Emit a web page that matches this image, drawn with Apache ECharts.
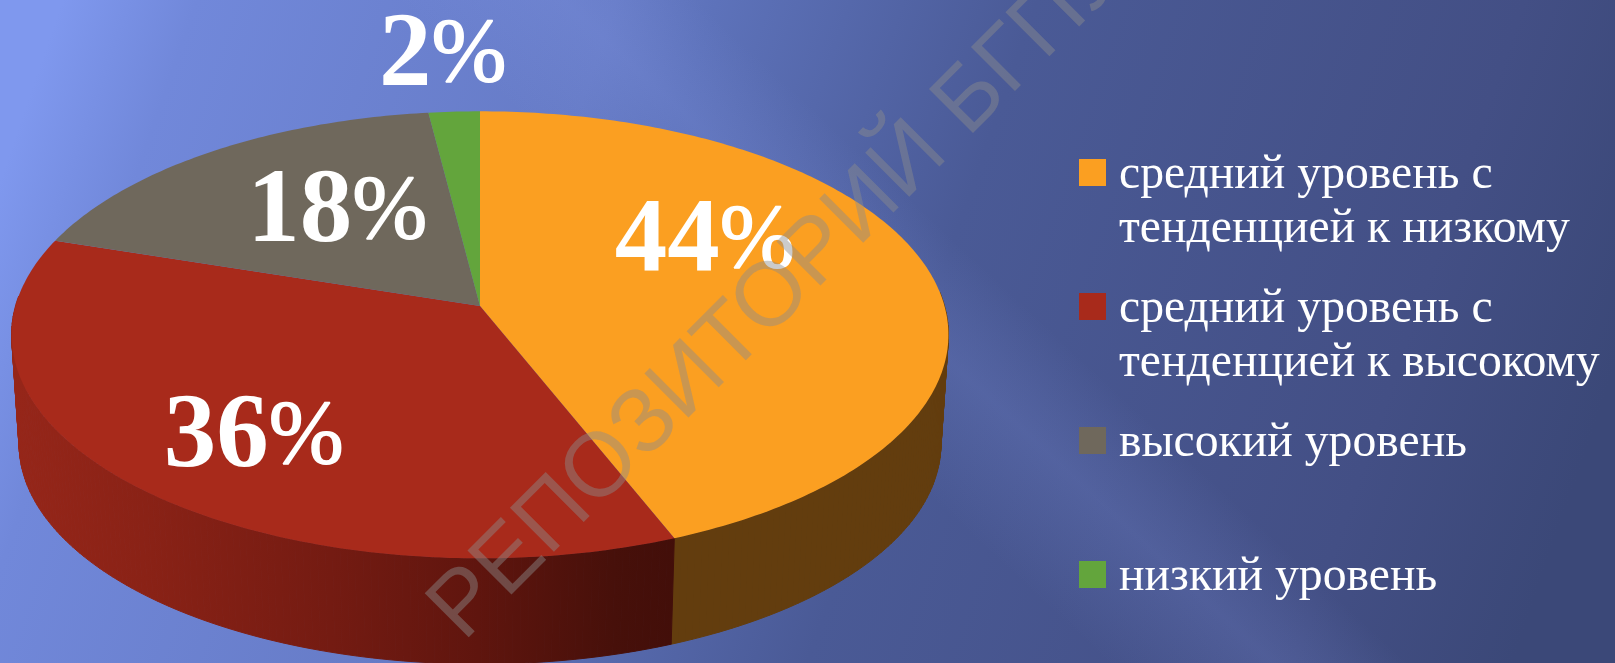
<!DOCTYPE html>
<html>
<head>
<meta charset="utf-8">
<title>Уровни</title>
<style>
html,body{margin:0;padding:0;background:#3b487a;}
#chart{width:1615px;height:663px;}
</style>
<script src="https://cdn.jsdelivr.net/npm/echarts@6/dist/echarts.min.js"></script>
</head>
<body>
<div id="chart"></div>
<script>
// data
var categories = ['средний уровень с\nтенденцией к низкому', 'средний уровень с\nтенденцией к высокому', 'высокий уровень\n ', 'низкий уровень\n '];
var values = [44, 36, 18, 2];
var watermark = 'РЕПОЗИТОРИЙ БГПУ';

var topColors = ['#FB9F21', '#A82A1B', '#6F685C', '#63A53C'];
var total = values.reduce(function(a,b){return a+b;}, 0);

// the pie is a tilted disc seen in perspective
var CX = 480, CY = 306, RX = 464.5, RY = 219.8, PERSP = 0.129;
var WALL_Y = 415.7, WALL_S = 0.984;

function project(angle, r, low){
	var X = Math.sin(angle)*r;
	var Y = -Math.cos(angle)*r;
	var w = 1 - PERSP*Y;
	var s = low ? WALL_S : 1;
	return [CX + s*RX*X/w, (low ? WALL_Y : CY) + s*RY*Y/w];
}

var redWall = new echarts.graphic.LinearGradient(10, 0, 680, 0, [
	{offset:0, color:'#962619'},
	{offset:0.2, color:'#8a2216'},
	{offset:0.48, color:'#741b12'},
	{offset:0.7, color:'#5f150e'},
	{offset:0.9, color:'#47100a'},
	{offset:1, color:'#420e09'}
], true);
var wallColors = ['#633D0E', redWall, '#4a453d', '#42702a'];
// label centre moved away from the middle of the slice, as in the picture
var labelShift = [[-45,-38],[-24,31],[25,4],[-21,-126]];

function renderSlice(params, api){
	var i = params.seriesIndex;
	var before = 0;
	for (var n=0;n<i;n++) before += values[n];
	var a0 = before/total*Math.PI*2;
	var a1 = (before+api.value(0))/total*Math.PI*2;
	var steps = Math.max(4, Math.ceil((a1-a0)/0.015));
	var children = [];
	var rim = [project(a0,0,false)];
	var prevT, prevB;
	for (var s=0;s<=steps;s++){
		var a = a0+(a1-a0)*s/steps;
		var t = project(a,1,false), b = project(a,1,true);
		rim.push(t);
		// back of the wall is behind the top, only the front half is drawn
		if (s>0 && Math.cos(a)<0.05){
			children.push({
				type:'polygon', z2:1, silent:true,
				shape:{points:[prevT,t,b,prevB]},
				style:{fill:wallColors[i], stroke:wallColors[i], lineWidth:1}
			});
		}
		prevT = t; prevB = b;
	}
	children.push({
		type:'polygon', z2:2,
		shape:{points:rim},
		style:{fill:api.visual('color')}
	});
	var mid = project((a0+a1)/2,0.6,false);
	children.push({
		type:'text', z2:3,
		x:mid[0]+labelShift[i][0], y:mid[1]+labelShift[i][1],
		style:{
			text:'{n|'+api.value(0)+'}{p|%}',
			align:'center', verticalAlign:'middle',
			fill:'#fff',
			rich:{
				n:{fontFamily:'Liberation Serif',fontWeight:'bold',fontSize:105,fill:'#fff'},
				p:{fontFamily:'Liberation Serif',fontWeight:'normal',fontSize:90,fill:'#fff',stroke:'#fff',lineWidth:1.5}
			}
		}
	});
	return {type:'group', children:children};
}

var series = categories.map(function(name,i){
	return {
		type:'custom', name:name, coordinateSystem:'none',
		animation:false, silent:true, clip:false,
		itemStyle:{color:topColors[i]},
		renderItem:renderSlice,
		data:[[values[i]]]
	};
});

var bg = new echarts.graphic.LinearGradient(0, 180, 1500, 700, [
	{offset:0, color:'#7f98ee'},
	{offset:0.08, color:'#7188da'},
	{offset:0.33, color:'#667bc6'},
	{offset:0.39, color:'#5d72ba'},
	{offset:0.58, color:'#4a5a96'},
	{offset:0.87, color:'#434f85'},
	{offset:1, color:'#3b4878'}
], true);
var band = new echarts.graphic.LinearGradient(740, 320, 880, 170, [
	{offset:0, color:'rgba(140,160,240,0)'},
	{offset:0.55, color:'rgba(140,160,240,0.17)'},
	{offset:0.72, color:'rgba(140,160,240,0.11)'},
	{offset:1, color:'rgba(140,160,240,0)'}
], true);

var myChart = echarts.init(document.getElementById('chart'), null, {renderer:'canvas'});
myChart.setOption({
	animation:false,
	backgroundColor:'#3b487a',
	legend:{
		orient:'vertical', left:1079, top:148, padding:0,
		itemWidth:35, itemHeight:108, itemGap:26,
		icon:'path://M0 0L0 0M35 108L35 108M0 11H27V38H0Z',
		selectedMode:false,
		data:categories,
		textStyle:{fontFamily:'Liberation Serif',fontSize:47.7,lineHeight:54,color:'#fff'}
	},
	graphic:[
		{type:'rect', z:-2, silent:true, shape:{x:0,y:0,width:1615,height:663}, style:{fill:bg}},
		{type:'rect', z:-1, silent:true, shape:{x:0,y:0,width:1615,height:663}, style:{fill:band}},
		{
			type:'text', z:50, silent:true,
			x:478, y:657, rotation:45*Math.PI/180,
			style:{
				text:watermark, align:'left', verticalAlign:'bottom',
				fontFamily:'Liberation Sans', fontSize:90.5,
				fill:'rgba(140,140,140,0.45)'
			}
		}
	],
	series:series
});
</script>
</body>
</html>
